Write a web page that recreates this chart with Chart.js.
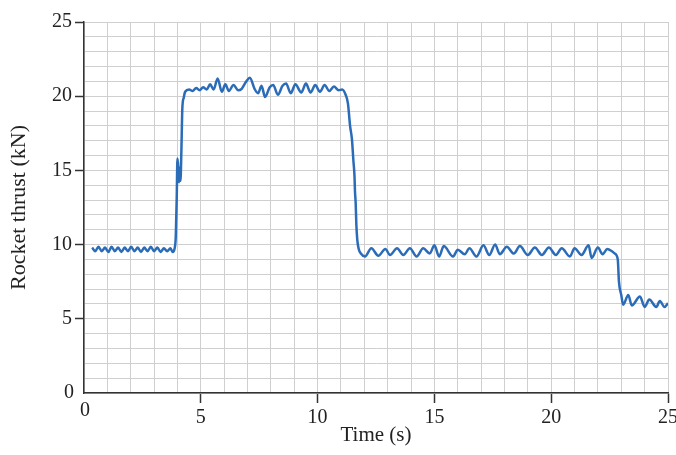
<!DOCTYPE html>
<html>
<head>
<meta charset="utf-8">
<title>Rocket thrust</title>
<script src="https://cdn.jsdelivr.net/npm/chart.js@4"></script>
<style>
    html, body { margin: 0; padding: 0; background: #ffffff; }
    #wrap { width: 676px; height: 455px; position: relative; }
</style>
</head>
<body>
<div id="wrap"><canvas id="thrustChart"></canvas></div>
<script>
// Time (s)
const timeS = [
    0.35, 0.48, 0.62, 0.76, 0.9, 1.04, 1.18, 1.32, 1.46, 1.6, 1.74, 1.88, 2.02, 2.16, 2.3, 2.44,
    2.58, 2.72, 2.86, 3.0, 3.14, 3.28, 3.42, 3.56, 3.7, 3.8, 3.88,
    3.93, 3.97, 4.0, 4.04, 4.07, 4.1, 4.13, 4.17, 4.21, 4.27, 4.33,
    4.5, 4.65, 4.8, 4.95, 5.1, 5.25, 5.4, 5.55, 5.72, 5.9, 6.05, 6.2, 6.4, 6.6, 6.75, 6.95,
    7.1, 7.3, 7.45, 7.6, 7.75, 7.95, 8.1, 8.3, 8.5, 8.65, 8.85, 9.05, 9.3, 9.5, 9.7, 9.9,
    10.1, 10.3, 10.5, 10.7, 10.9, 11.05, 11.2,
    11.3, 11.39, 11.47, 11.53, 11.58, 11.6, 11.63, 11.66, 11.7, 11.76, 11.85,
    12.03, 12.3, 12.6, 12.9, 13.1, 13.4, 13.67, 13.95, 14.24, 14.52, 14.8, 15.0, 15.2, 15.4,
    15.8, 16.0, 16.3, 16.5, 16.8, 17.1, 17.35, 17.6, 17.8, 18.1, 18.4, 18.66, 19.0, 19.3,
    19.6, 19.9, 20.2, 20.45, 20.8, 21.0, 21.3, 21.6, 21.73, 22.0, 22.2, 22.4, 22.6, 22.72,
    22.85, 22.9, 23.0, 23.08, 23.3, 23.45, 23.8, 24.0, 24.2, 24.5, 24.65, 24.85, 25.0
];

// Rocket thrust (kN), same order as timeS
const thrustKN = [
    9.8, 9.55, 9.85, 9.55, 9.8, 9.5, 9.85, 9.55, 9.8, 9.5, 9.8, 9.55, 9.85, 9.55, 9.8, 9.5,
    9.8, 9.55, 9.85, 9.55, 9.8, 9.5, 9.75, 9.55, 9.75, 9.5, 9.75,
    10.6, 13.2, 15.8, 15.1, 14.2, 15.2, 14.3, 16.4, 19.2, 19.9, 20.3,
    20.45, 20.35, 20.55, 20.4, 20.6, 20.45, 20.8, 20.45, 21.2, 20.3, 20.8, 20.35, 20.75, 20.4, 20.5, 21.0,
    21.25, 20.5, 20.2, 20.7, 19.95, 20.6, 20.75, 20.1, 20.7, 20.85, 20.2, 20.8, 20.25, 20.85, 20.25, 20.75,
    20.3, 20.75, 20.35, 20.65, 20.4, 20.45, 20.1,
    19.5, 18.0, 17.1, 15.7, 14.6, 13.6, 12.8, 11.3, 10.3, 9.7, 9.4,
    9.2, 9.75, 9.25, 9.7, 9.3, 9.75, 9.3, 9.75, 9.2, 9.75, 9.4, 9.95, 9.2, 9.9,
    9.2, 9.65, 9.35, 9.75, 9.2, 9.95, 9.3, 10.0, 9.35, 9.85, 9.4, 9.9, 9.3, 9.8,
    9.3, 9.8, 9.3, 9.75, 9.2, 9.75, 9.3, 9.95, 9.1, 9.8, 9.35, 9.7, 9.55, 9.4,
    9.0, 7.5, 6.6, 5.95, 6.6, 5.9, 6.5, 5.8, 6.3, 5.8, 6.2, 5.8, 6.05
];

// Axis ranges and labelled ticks
const xRange = [0, 25];
const yRange = [0, 25];
const majorStep = 5;

const serif = '"Liberation Serif", "DejaVu Serif", serif';
const inkColor = '#222222';
const axisColor = '#333333';
const gridColor = '#cfcfcf';

// Only the multiples of 5 get a label and an outside tick mark (0 is drawn by hand)
function isMajor(v) {
    return v % majorStep === 0 && v !== 0;
}
function tickLabel(v) {
    return isMajor(v) ? String(v) : '';
}
function tickMarkColor(ctx) {
    return ctx.tick && isMajor(ctx.tick.value) ? axisColor : 'rgba(0,0,0,0)';
}

// The two zeros sit close to the corner in the original, so they are placed by hand
const cornerZeros = {
    id: 'cornerZeros',
    afterDraw(chart) {
        const { ctx, scales } = chart;
        const x0 = scales.x.getPixelForValue(0);
        const y0 = scales.y.getPixelForValue(0);
        ctx.save();
        ctx.font = '20px ' + serif;
        ctx.fillStyle = inkColor;
        ctx.textAlign = 'center';
        ctx.textBaseline = 'middle';
        ctx.fillText('0', x0 - 15, y0);
        ctx.fillText('0', x0 + 1, y0 + 18);
        ctx.restore();
    }
};

const points = timeS.map((t, i) => ({ x: t, y: thrustKN[i] }));

new Chart(document.getElementById('thrustChart').getContext('2d'), {
    type: 'line',
    data: {
        datasets: [{
            data: points,
            borderColor: '#2b6cb8',
            borderWidth: 2.5,
            pointRadius: 0,
            fill: false,
            cubicInterpolationMode: 'monotone'
        }]
    },
    options: {
        responsive: true,
        maintainAspectRatio: false,
        animation: false,
        layout: { padding: { top: 22, right: 8, bottom: 0, left: 0 } },
        plugins: {
            legend: { display: false },
            tooltip: { enabled: false }
        },
        scales: {
            x: {
                type: 'linear',
                min: xRange[0],
                max: xRange[1],
                afterFit(scale) {
                    scale.height = 62;
                    scale.paddingLeft = 0;
                    scale.paddingRight = 0;
                },
                ticks: {
                    stepSize: 1,
                    autoSkip: false,
                    maxRotation: 0,
                    padding: 3,
                    color: inkColor,
                    font: { family: serif, size: 20 },
                    callback: tickLabel
                },
                grid: {
                    color: gridColor,
                    lineWidth: 1,
                    tickLength: 10,
                    tickWidth: 1.5,
                    tickColor: tickMarkColor
                },
                border: { color: axisColor, width: 1.5 },
                title: {
                    display: true,
                    text: 'Time (s)',
                    color: inkColor,
                    font: { family: serif, size: 21 },
                    padding: { top: 0, bottom: 7 }
                }
            },
            y: {
                type: 'linear',
                min: yRange[0],
                max: yRange[1],
                afterFit(scale) {
                    scale.width = 84;
                    scale.paddingTop = 0;
                    scale.paddingBottom = 0;
                },
                ticks: {
                    stepSize: 1,
                    autoSkip: false,
                    padding: 3,
                    color: inkColor,
                    font: { family: serif, size: 20 },
                    callback: tickLabel
                },
                grid: {
                    color: gridColor,
                    lineWidth: 1,
                    tickLength: 9,
                    tickWidth: 1.5,
                    tickColor: tickMarkColor
                },
                border: { color: axisColor, width: 1.5 },
                title: {
                    display: true,
                    text: 'Rocket thrust (kN)',
                    color: inkColor,
                    font: { family: serif, size: 22 },
                    padding: { top: 6, bottom: 0 }
                }
            }
        }
    },
    plugins: [cornerZeros]
});
</script>
</body>
</html>
